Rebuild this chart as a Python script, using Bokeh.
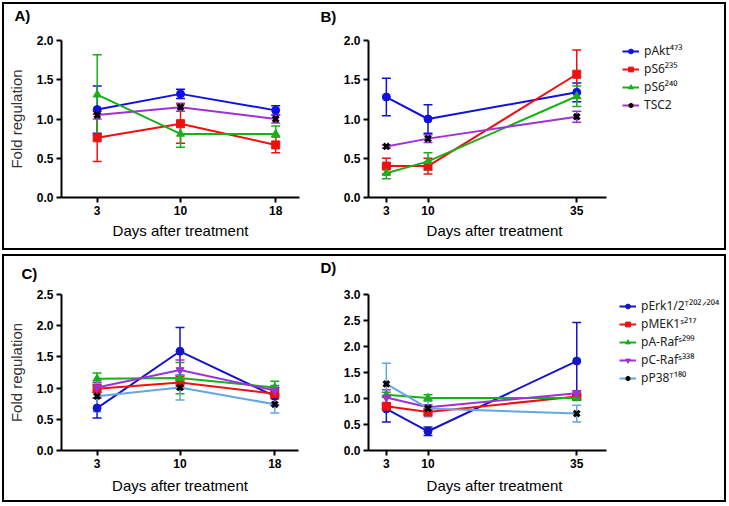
from bokeh.plotting import figure
from bokeh.models import (ColumnDataSource, Whisker, TeeHead, FixedTicker,
                          NumeralTickFormatter, Range1d, Legend, LegendItem, Label)
from bokeh.layouts import row, column
from bokeh.embed import file_html
from bokeh.resources import INLINE

# ---------------- data ----------------
days_a = [3, 10, 18]
days_b = [3, 10, 35]
days_c = [3, 10, 18]
days_d = [3, 10, 35]

top_labels = ["pAkt\u2074\u2077\u00b3", "pS6\u00b2\u00b3\u2075", "pS6\u00b2\u2074\u2070", "TSC2"]
bot_labels = ["pErk1/2\u1d40\u00b2\u2070\u00b2\u141f\u00b2\u2070\u2074", "pMEK1\u02e2\u00b2\u00b9\u2077",
              "pA-Raf\u02e2\u00b2\u2079\u2079", "pC-Raf\u02e2\u00b3\u00b3\u2078", "pP38\u1d40\u00b9\u2078\u2070"]

# Panel A (mean, error)
a_pakt = [1.12, 1.32, 1.11]; a_pakt_err = [0.30, 0.06, 0.06]
a_ps6_235 = [0.76, 0.94, 0.67]; a_ps6_235_err = [0.30, 0.25, 0.10]
a_ps6_240 = [1.31, 0.81, 0.81]; a_ps6_240_err = [0.51, 0.17, 0.10]
a_tsc2 = [1.05, 1.15, 1.00]; a_tsc2_err = [0.05, 0.05, 0.05]

# Panel B
b_pakt = [1.28, 1.00, 1.34]; b_pakt_err = [0.24, 0.18, 0.12]
b_ps6_235 = [0.40, 0.40, 1.57]; b_ps6_235_err = [0.10, 0.10, 0.31]
b_ps6_240 = [0.31, 0.46, 1.29]; b_ps6_240_err = [0.07, 0.11, 0.13]
b_tsc2 = [0.65, 0.75, 1.03]; b_tsc2_err = [0.02, 0.05, 0.07]

# Panel C
c_perk = [0.68, 1.59, 0.87]; c_perk_err = [0.16, 0.38, 0.14]
c_pmek = [0.99, 1.09, 0.91]; c_pmek_err = [0.06, 0.10, 0.08]
c_araf = [1.15, 1.16, 1.01]; c_araf_err = [0.09, 0.25, 0.10]
c_craf = [1.01, 1.29, 0.96]; c_craf_err = [0.08, 0.16, 0.08]
c_pp38 = [0.87, 1.01, 0.74]; c_pp38_err = [0.25, 0.20, 0.14]

# Panel D
d_perk = [0.80, 0.37, 1.72]; d_perk_err = [0.25, 0.08, 0.74]
d_pmek = [0.85, 0.74, 1.04]; d_pmek_err = [0.06, 0.05, 0.04]
d_araf = [1.07, 1.01, 1.01]; d_araf_err = [0.05, 0.06, 0.05]
d_craf = [1.02, 0.83, 1.10]; d_craf_err = [0.15, 0.05, 0.05]
d_pp38 = [1.28, 0.81, 0.71]; d_pp38_err = [0.40, 0.16, 0.16]

ticks_top = [0.0, 0.5, 1.0, 1.5, 2.0]
ticks_c = [0.0, 0.5, 1.0, 1.5, 2.0, 2.5]
ticks_d = [0.0, 0.5, 1.0, 1.5, 2.0, 2.5, 3.0]

XLABEL = "Days after treatment"

# ---------------- styles ----------------
BLUE = "#1010e0"
RED = "#f01010"
GREEN = "#18b018"
PURPLE = "#a030d8"
DBLUE = "#1414c8"
LBLUE = "#62a6e6"

top_styles = [
    dict(color=BLUE, marker="circle", mcolor=BLUE),
    dict(color=RED, marker="square", mcolor=RED),
    dict(color=GREEN, marker="triangle", mcolor=GREEN),
    dict(color=PURPLE, marker="x", mcolor="black"),
]
bot_styles = [
    dict(color=DBLUE, marker="circle", mcolor=DBLUE),
    dict(color=RED, marker="square", mcolor=RED),
    dict(color=GREEN, marker="triangle", mcolor=GREEN),
    dict(color=PURPLE, marker="inverted_triangle", mcolor=PURPLE),
    dict(color=LBLUE, marker="x", mcolor="black"),
]

FONT = "Liberation Sans"
H = 244


def make_panel(days, series, styles, labels, xmax, axis_max, ymax, yticks, letter, ylabel,
               width, left, right, top, bottom, letter_x, legend_loc=None, label_pad=0,
               xlabel_standoff=6):
    p = figure(width=width, height=H, x_range=Range1d(0, xmax), y_range=Range1d(0, ymax),
               output_backend="svg", toolbar_location=None,
               min_border_left=left, min_border_right=right,
               min_border_top=top, min_border_bottom=bottom)
    p.xgrid.visible = False
    p.ygrid.visible = False
    p.outline_line_color = None
    p.background_fill_color = "white"
    p.border_fill_color = "white"
    for ax in (p.xaxis[0], p.yaxis[0]):
        ax.axis_line_width = 2
        ax.axis_line_color = "black"
        ax.major_tick_line_width = 2
        ax.major_tick_out = 5
        ax.major_tick_in = 0
        ax.minor_tick_line_color = None
        ax.major_label_text_font = FONT
        ax.major_label_text_font_style = "bold"
        ax.major_label_text_font_size = "12px"
        ax.major_label_text_color = "black"
        ax.major_label_standoff = 3
    p.xaxis.ticker = FixedTicker(ticks=days)
    p.xaxis.bounds = (0, axis_max)
    p.yaxis.ticker = FixedTicker(ticks=yticks)
    p.yaxis.formatter = NumeralTickFormatter(format="0.0")
    # trailing no-break spaces keep the label centred under the drawn axis part
    p.xaxis.axis_label = XLABEL + "\u00a0" * label_pad
    p.xaxis.axis_label_text_font = FONT
    p.xaxis.axis_label_text_font_style = "normal"
    p.xaxis.axis_label_text_font_size = "15px"
    p.xaxis.axis_label_text_color = "black"
    p.xaxis.axis_label_standoff = xlabel_standoff
    if ylabel:
        p.yaxis.axis_label = ylabel
        p.yaxis.axis_label_text_font = FONT
        p.yaxis.axis_label_text_font_style = "normal"
        p.yaxis.axis_label_text_font_size = "15px"
        p.yaxis.axis_label_text_color = "#333333"
        p.yaxis.axis_label_standoff = 9

    # panel letter in the top-left corner, placed in the area above the frame
    p.add_layout(Label(x=letter_x - left, y=top - 11, x_units="screen", y_units="screen",
                       text=letter, text_font=FONT, text_font_style="bold",
                       text_font_size="15px", text_baseline="middle", text_color="black"),
                 "above")

    items = []
    for (mean, err), st, lab in zip(series, styles, labels):
        src = ColumnDataSource(dict(x=days, y=mean,
                                    lo=[m - e for m, e in zip(mean, err)],
                                    hi=[m + e for m, e in zip(mean, err)]))
        w = Whisker(base="x", lower="lo", upper="hi", source=src,
                    line_color=st["color"], line_width=1.5,
                    upper_head=TeeHead(size=9, line_color=st["color"], line_width=1.5),
                    lower_head=TeeHead(size=9, line_color=st["color"], line_width=1.5))
        p.add_layout(w)
        lr = p.line("x", "y", source=src, line_color=st["color"], line_width=2)
        if st["marker"] == "x":
            sr = p.scatter("x", "y", source=src, marker="x", size=8,
                           line_color=st["mcolor"], line_width=3)
        else:
            sr = p.scatter("x", "y", source=src, marker=st["marker"], size=8,
                           fill_color=st["mcolor"], line_color=st["mcolor"])
        items.append(LegendItem(label=lab, renderers=[lr, sr]))

    if legend_loc is not None:
        lg = Legend(items=items, location=legend_loc)
        lg.background_fill_alpha = 0
        lg.border_line_color = None
        lg.padding = 0
        lg.margin = 0
        lg.spacing = 1
        lg.label_height = 17
        lg.glyph_height = 12
        lg.glyph_width = 17
        lg.label_standoff = 5
        lg.label_text_font = "Noto Sans"
        lg.label_text_font_size = "12px"
        lg.label_text_color = "#222222"
        p.add_layout(lg)
    return p


# right-hand panels: frame extends under the legend, axis drawn only to day 40
WB, LB, RB = 410, 54, 4
AXIS_PX = 238
XMAX_B = 40 * (WB - LB - RB) / AXIS_PX

pa = make_panel(days_a,
                [(a_pakt, a_pakt_err), (a_ps6_235, a_ps6_235_err),
                 (a_ps6_240, a_ps6_240_err), (a_tsc2, a_tsc2_err)],
                top_styles, top_labels, 20, 20, 2.0, ticks_top, "A)", "Fold regulation",
                310, 55, 15, 36, 49, 8, xlabel_standoff=4)
pb = make_panel(days_b,
                [(b_pakt, b_pakt_err), (b_ps6_235, b_ps6_235_err),
                 (b_ps6_240, b_ps6_240_err), (b_tsc2, b_tsc2_err)],
                top_styles, top_labels, XMAX_B, 40, 2.0, ticks_top, "B)", None,
                WB, LB, RB, 35, 51, 6, legend_loc=(254, 84), label_pad=24, xlabel_standoff=4)
pc = make_panel(days_c,
                [(c_perk, c_perk_err), (c_pmek, c_pmek_err), (c_araf, c_araf_err),
                 (c_craf, c_craf_err), (c_pp38, c_pp38_err)],
                bot_styles, bot_labels, 20, 20, 2.5, ticks_c, "C)", "Fold regulation",
                310, 48, 16, 32, 49, 8)
pd_ = make_panel(days_d,
                 [(d_perk, d_perk_err), (d_pmek, d_pmek_err), (d_araf, d_araf_err),
                  (d_craf, d_craf_err), (d_pp38, d_pp38_err)],
                 bot_styles, bot_labels, XMAX_B, 40, 3.0, ticks_d, "D)", None,
                 WB, LB, RB, 38, 50, 6, legend_loc=(251, 64), label_pad=24)

box = {"border": "2px solid black"}
r1 = row(pa, pb, styles=box)
r2 = row(pc, pd_, styles=box)
layout = column(r1, r2, spacing=4, styles={"margin-left": "2px", "margin-top": "2px"})

open("out.html", "w").write(file_html(layout, INLINE))
